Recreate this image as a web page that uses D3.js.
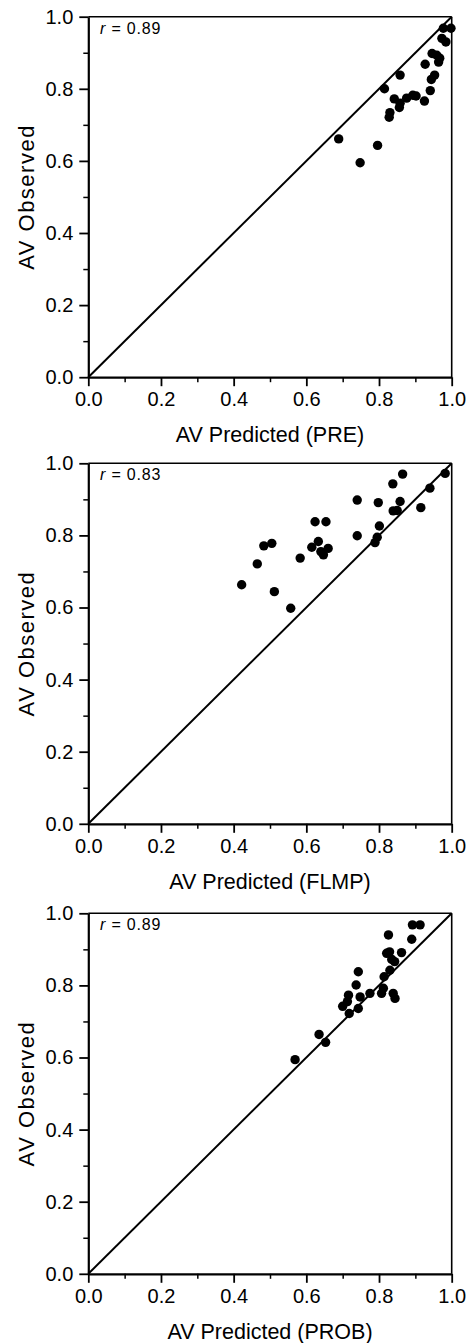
<!DOCTYPE html>
<html>
<head>
<meta charset="utf-8">
<script src="https://cdn.jsdelivr.net/npm/d3@7"></script>
<style>
  html, body { margin: 0; padding: 0; background: #fff; }
  svg { display: block; }
  text { font-family: "Liberation Sans", Arial, Helvetica, sans-serif; fill: #000; }
</style>
</head>
<body>
<svg id="chart" width="469" height="1343"></svg>
<script>
// ---- Data ----
const majorTicks = [0, 0.2, 0.4, 0.6, 0.8, 1.0];
const minorTicks = [0.1, 0.3, 0.5, 0.7, 0.9];
const yLabel = "AV Observed";
const xLabels = ["AV Predicted (PRE)", "AV Predicted (FLMP)", "AV Predicted (PROB)"];
const rValues = ["0.89", "0.83", "0.89"];

const prePredicted = [0.689, 0.748, 0.796, 0.815, 0.858, 0.828, 0.830, 0.842, 0.858, 0.856,
  0.876, 0.893, 0.902, 0.925, 0.927, 0.941, 0.944, 0.953, 0.946, 0.959, 0.964, 0.967,
  0.973, 0.984, 0.977, 0.998];
const preObserved = [0.661, 0.595, 0.643, 0.800, 0.838, 0.721, 0.734, 0.772, 0.760, 0.748,
  0.774, 0.782, 0.780, 0.766, 0.868, 0.795, 0.826, 0.838, 0.898, 0.893, 0.874, 0.885,
  0.940, 0.930, 0.968, 0.968];

const flmpPredicted = [0.422, 0.465, 0.483, 0.505, 0.512, 0.557, 0.583, 0.615, 0.624, 0.633,
  0.654, 0.660, 0.647, 0.640, 0.740, 0.740, 0.798, 0.801, 0.795, 0.789, 0.838, 0.865,
  0.858, 0.839, 0.850, 0.915, 0.940, 0.982];
const flmpObserved = [0.663, 0.721, 0.771, 0.778, 0.644, 0.598, 0.737, 0.767, 0.838, 0.783,
  0.838, 0.764, 0.746, 0.755, 0.898, 0.799, 0.891, 0.826, 0.795, 0.780, 0.943, 0.970,
  0.894, 0.868, 0.869, 0.877, 0.931, 0.972];

const probPredicted = [0.569, 0.635, 0.653, 0.700, 0.716, 0.718, 0.713, 0.737, 0.743, 0.743,
  0.748, 0.775, 0.807, 0.812, 0.814, 0.826, 0.821, 0.829, 0.835, 0.843, 0.830, 0.839,
  0.844, 0.862, 0.890, 0.892, 0.913];
const probObserved = [0.594, 0.664, 0.642, 0.742, 0.773, 0.722, 0.755, 0.801, 0.838, 0.736,
  0.768, 0.778, 0.778, 0.792, 0.824, 0.940, 0.889, 0.893, 0.872, 0.866, 0.842, 0.778,
  0.764, 0.891, 0.928, 0.968, 0.968];

const panels = [
  { xs: prePredicted, ys: preObserved, xl: xLabels[0], r: rValues[0] },
  { xs: flmpPredicted, ys: flmpObserved, xl: xLabels[1], r: rValues[1] },
  { xs: probPredicted, ys: probObserved, xl: xLabels[2], r: rValues[2] }
];

// ---- Layout ----
const svg = d3.select("#chart");
const left = 88.3, right = 451.7;
const tops = [16.7, 463.3, 913.3];
const plotH = 360.5;
const fmt = d3.format(".1f");

panels.forEach((p, i) => {
  const top = tops[i], bottom = top + plotH;
  const x = d3.scaleLinear().domain([0, 1]).range([left, right]);
  const y = d3.scaleLinear().domain([0, 1]).range([bottom, top]);
  const g = svg.append("g");

  // frame top & right
  g.append("line").attr("x1", x(0)).attr("x2", x(1)).attr("y1", y(1)).attr("y2", y(1))
    .attr("stroke", "#000").attr("stroke-width", 1.6);
  g.append("line").attr("x1", x(1)).attr("x2", x(1)).attr("y1", y(0)).attr("y2", y(1))
    .attr("stroke", "#000").attr("stroke-width", 1.6);

  // diagonal identity line
  g.append("line").attr("x1", x(0)).attr("y1", y(0)).attr("x2", x(1)).attr("y2", y(1))
    .attr("stroke", "#000").attr("stroke-width", 2);

  // minor ticks
  g.append("g").attr("transform", `translate(0,${bottom})`)
    .call(d3.axisBottom(x).tickValues(minorTicks).tickSize(5).tickFormat(""))
    .call(s => s.select(".domain").remove())
    .selectAll("line").attr("stroke-width", 1.5);
  g.append("g").attr("transform", `translate(${left},0)`)
    .call(d3.axisLeft(y).tickValues(minorTicks).tickSize(5).tickFormat(""))
    .call(s => s.select(".domain").remove())
    .selectAll("line").attr("stroke-width", 1.5);

  // major axes
  const xa = g.append("g").attr("transform", `translate(0,${bottom})`)
    .call(d3.axisBottom(x).tickValues(majorTicks).tickSize(9).tickSizeOuter(0).tickPadding(6).tickFormat(fmt));
  const ya = g.append("g").attr("transform", `translate(${left},0)`)
    .call(d3.axisLeft(y).tickValues(majorTicks).tickSize(9).tickSizeOuter(0).tickPadding(6).tickFormat(fmt));
  [xa, ya].forEach(a => {
    a.select(".domain").attr("stroke-width", 2.2);
    a.selectAll(".tick line").attr("stroke-width", 1.8);
    a.selectAll(".tick text").attr("font-size", 20)
      .attr("font-family", '"Liberation Sans", Arial, sans-serif').attr("fill", "#000");
  });

  // points
  g.append("g").selectAll("circle").data(p.xs.map((v, k) => [v, p.ys[k]])).join("circle")
    .attr("cx", d => x(d[0])).attr("cy", d => y(d[1])).attr("r", 4.7).attr("fill", "#000");

  // r annotation
  const rt = g.append("text").attr("x", 100).attr("y", top + 17)
    .attr("font-size", 16).attr("letter-spacing", 0.8);
  rt.append("tspan").attr("font-style", "italic").text("r");
  rt.append("tspan").text(" = " + p.r);

  // axis titles
  g.append("text").attr("x", (left + right) / 2).attr("y", bottom + 65)
    .attr("text-anchor", "middle").attr("font-size", 21.5).text(p.xl);
  g.append("text")
    .attr("transform", `translate(34,${(top + bottom) / 2}) rotate(-90)`)
    .attr("text-anchor", "middle").attr("font-size", 22).attr("letter-spacing", 1.5)
    .text(yLabel);
});
</script>
</body>
</html>
